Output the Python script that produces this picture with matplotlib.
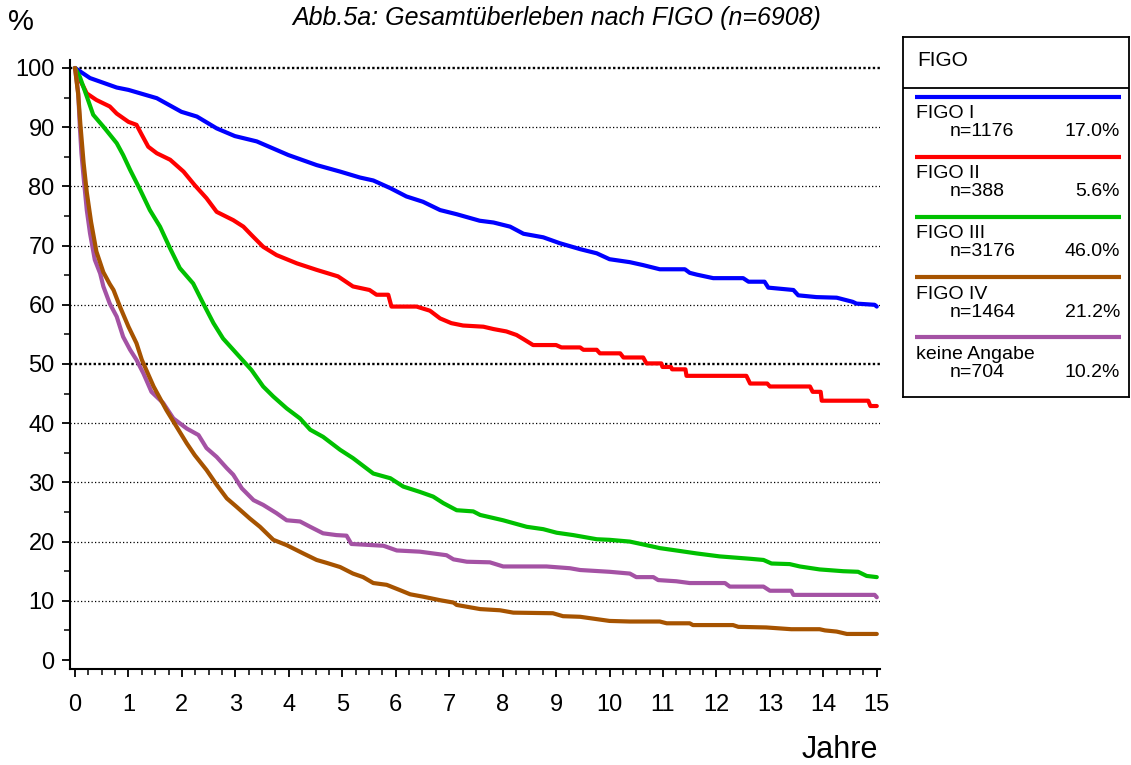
import matplotlib
matplotlib.use("Agg")
import matplotlib.pyplot as plt
from matplotlib.ticker import MultipleLocator

plt.rcParams['font.family'] = ['Liberation Sans', 'DejaVu Sans']

# Kaplan-Meier estimates (years, % surviving)
figo1_t = [0, 0.28, 0.78, 1.0, 1.53, 1.99, 2.28, 2.65, 2.99, 3.4, 3.99, 4.52, 4.96, 5.33,
           5.58, 5.9, 6.2, 6.51, 6.83, 7.14, 7.57, 7.83, 8.14, 8.39, 8.76, 9.07, 9.45, 9.76,
           10.0, 10.38, 10.63, 10.94, 11.41, 11.5, 11.63, 11.94, 12.5, 12.6, 12.9, 12.97,
           13.44, 13.53, 13.87, 14.25, 14.55, 14.62, 14.96, 15.0]
figo1_v = [100, 98.3, 96.7, 96.3, 94.9, 92.6, 91.8, 89.8, 88.5, 87.6, 85.3, 83.6, 82.5, 81.5,
           81.0, 79.7, 78.3, 77.4, 76.0, 75.3, 74.2, 73.9, 73.2, 72.0, 71.4, 70.4, 69.4, 68.7,
           67.7, 67.2, 66.7, 66.0, 66.0, 65.4, 65.1, 64.5, 64.5, 63.9, 63.9, 62.9,
           62.5, 61.6, 61.3, 61.2, 60.5, 60.2, 60.0, 59.7]

figo2_t = [0, 0.06, 0.16, 0.22, 0.4, 0.65, 0.78, 1.0, 1.15, 1.25, 1.37, 1.53, 1.78, 2.03,
           2.24, 2.46, 2.65, 2.96, 3.15, 3.3, 3.52, 3.77, 4.15, 4.52, 4.92, 5.2, 5.51, 5.64,
           5.86, 5.92, 6.39, 6.64, 6.83, 7.04, 7.26, 7.64, 7.83, 8.07, 8.26, 8.39, 8.57, 9.0,
           9.1, 9.45, 9.51, 9.76, 9.82, 10.2, 10.26, 10.63, 10.69, 10.97, 10.99, 11.15, 11.17,
           11.42, 11.44, 12.56, 12.63, 12.95, 13.0, 13.75, 13.8, 13.95, 13.97, 14.84, 14.88, 15.0]
figo2_v = [100, 98.5, 96.8, 95.7, 94.6, 93.5, 92.3, 90.9, 90.4, 88.7, 86.7, 85.6, 84.5, 82.5,
           80.2, 78.0, 75.7, 74.3, 73.2, 71.8, 69.8, 68.4, 67.0, 65.9, 64.8, 63.1, 62.5, 61.7,
           61.7, 59.7, 59.7, 59.0, 57.7, 56.9, 56.5, 56.3, 55.9, 55.5, 54.9, 54.2, 53.2, 53.2,
           52.8, 52.8, 52.4, 52.4, 51.8, 51.8, 51.1, 51.1, 50.1, 50.1, 49.5, 49.5, 49.1,
           49.1, 48.0, 48.0, 46.7, 46.7, 46.2, 46.2, 45.3, 45.3, 43.8, 43.8, 42.9, 42.9]

figo3_t = [0, 0.09, 0.22, 0.34, 0.53, 0.78, 0.9, 1.03, 1.22, 1.4, 1.59, 1.78, 1.96, 2.21,
           2.4, 2.59, 2.77, 3.02, 3.3, 3.52, 3.71, 3.96, 4.21, 4.4, 4.64, 4.96, 5.2, 5.58,
           5.9, 6.14, 6.45, 6.7, 6.89, 7.14, 7.45, 7.58, 8.01, 8.45, 8.76, 9.01, 9.32, 9.76,
           10.0, 10.38, 10.69, 10.94, 11.25, 11.63, 12.06, 12.63, 12.88, 13.03, 13.37, 13.56,
           13.93, 14.37, 14.65, 14.81, 15.0]
figo3_v = [100, 98.5, 95.2, 92.1, 90.1, 87.3, 85.3, 82.8, 79.4, 76.0, 73.2, 69.5, 66.2, 63.6,
           60.2, 56.9, 54.3, 51.8, 49.0, 46.2, 44.5, 42.5, 40.8, 38.9, 37.7, 35.5, 34.1, 31.5,
           30.7, 29.3, 28.4, 27.6, 26.5, 25.3, 25.1, 24.5, 23.6, 22.5, 22.1, 21.5, 21.1, 20.4,
           20.3, 20.0, 19.4, 18.9, 18.5, 18.0, 17.5, 17.1, 16.9, 16.3, 16.2, 15.8,
           15.3, 15.0, 14.9, 14.2, 14.0]

figo4_t = [0, 0.06, 0.1, 0.16, 0.22, 0.3, 0.4, 0.53, 0.65, 0.72, 0.84, 1.0, 1.15, 1.25,
           1.47, 1.71, 1.9, 2.09, 2.24, 2.46, 2.65, 2.84, 3.02, 3.27, 3.46, 3.71, 3.96, 4.27,
           4.52, 4.71, 4.96, 5.2, 5.39, 5.58, 5.83, 6.08, 6.27, 6.51, 6.83, 7.08, 7.14, 7.58,
           7.95, 8.2, 8.94, 9.13, 9.45, 10.0, 10.38, 10.94, 11.07, 11.5, 11.56, 12.31, 12.41,
           12.93, 13.4, 13.93, 14.03, 14.25, 14.44, 15.0]
figo4_v = [100, 95.5, 90.5, 84.0, 79.0, 74.0, 69.0, 65.5, 63.5, 62.5, 59.7, 56.3, 53.5, 50.7,
           46.2, 42.2, 39.4, 36.6, 34.6, 32.1, 29.6, 27.3, 25.9, 23.9, 22.5, 20.3, 19.4, 18.0,
           16.9, 16.4, 15.7, 14.6, 14.0, 13.0, 12.7, 11.8, 11.1, 10.7, 10.1, 9.7, 9.3, 8.6,
           8.4, 8.0, 7.9, 7.4, 7.3, 6.6, 6.5, 6.5, 6.2, 6.2, 5.9, 5.9, 5.6,
           5.5, 5.2, 5.2, 5.0, 4.8, 4.4, 4.4]

na_t = [0, 0.06, 0.09, 0.12, 0.16, 0.22, 0.28, 0.37, 0.47, 0.53, 0.65, 0.78, 0.9, 1.03,
        1.15, 1.28, 1.43, 1.65, 1.84, 2.09, 2.31, 2.46, 2.65, 2.84, 2.96, 3.12, 3.34, 3.52,
        3.77, 3.96, 4.21, 4.4, 4.64, 4.89, 5.08, 5.17, 5.77, 6.02, 6.45, 6.95, 7.08, 7.33,
        7.76, 8.01, 8.82, 9.26, 9.45, 10.0, 10.38, 10.5, 10.82, 10.91, 11.25, 11.5, 12.16,
        12.25, 12.88, 13.0, 13.4, 13.44, 14.96, 15.0]
na_v = [100, 95.7, 90.1, 85.6, 81.6, 76.0, 72.1, 67.6, 65.3, 63.1, 60.2, 58.0, 54.6, 52.4,
        50.7, 48.4, 45.3, 43.4, 40.8, 39.1, 38.0, 35.8, 34.3, 32.4, 31.3, 29.0, 27.0, 26.2,
        24.8, 23.6, 23.4, 22.5, 21.4, 21.1, 21.0, 19.6, 19.3, 18.5, 18.3, 17.7, 17.0, 16.6,
        16.5, 15.8, 15.8, 15.5, 15.2, 14.9, 14.6, 14.0, 14.0, 13.5, 13.3, 13.0, 13.0,
        12.4, 12.4, 11.7, 11.7, 11.0, 11.0, 10.6]

groups = ["FIGO I", "FIGO II", "FIGO III", "FIGO IV", "keine Angabe"]
counts = [1176, 388, 3176, 1464, 704]
shares = [17.0, 5.6, 46.0, 21.2, 10.2]
colors = ["#0000ff", "#ff0000", "#00c000", "#a65300", "#a452a4"]
curves = [(figo1_t, figo1_v), (figo2_t, figo2_v), (figo3_t, figo3_v),
          (figo4_t, figo4_v), (na_t, na_v)]

W, H = 1131, 765
fig = plt.figure(figsize=(W / 100, H / 100), dpi=100)
ax = fig.add_axes([70 / W, 1 - 669 / H, 810 / W, 609 / H])

ax.set_xlim(-0.094, 15.06)
ax.set_ylim(-1.52, 101.35)

# dotted reference lines, heavier at 50 and 100
for y in range(10, 101, 10):
    if y in (50, 100):
        ax.axhline(y, color="black", lw=1.7, ls=(0, (1, 1)), zorder=1)
    else:
        ax.axhline(y, color="black", lw=0.9, ls=(0, (1, 1.8)), zorder=1)

# draw the "keine Angabe" curve first so FIGO IV sits on top in the early part
order = [0, 1, 2, 4, 3]
for i in order:
    t, v = curves[i]
    ax.plot(t, v, color=colors[i], lw=3, solid_joinstyle="round",
            solid_capstyle="round", zorder=3)

for side in ("top", "right"):
    ax.spines[side].set_visible(False)
for side in ("left", "bottom"):
    ax.spines[side].set_linewidth(1.5)

ax.xaxis.set_major_locator(MultipleLocator(1))
ax.xaxis.set_minor_locator(MultipleLocator(0.25))
ax.yaxis.set_major_locator(MultipleLocator(10))
ax.yaxis.set_minor_locator(MultipleLocator(5))
ax.tick_params(axis="x", which="major", length=6, width=1.3, pad=12, labelsize=17)
ax.tick_params(axis="x", which="minor", length=4, width=1.1)
ax.tick_params(axis="y", which="major", length=6, width=1.3, pad=5, labelsize=17)
ax.tick_params(axis="y", which="minor", length=4, width=1.1)

fig.text(21 / W, 1 - 22 / H, "%", fontsize=21, ha="center", va="center")
fig.text(878 / W, 1 - 750 / H, "Jahre", fontsize=22, ha="right", va="center")
fig.text(557 / W, 1 - 18 / H, "Abb.5a: Gesamtüberleben nach FIGO (n=6908)",
         fontsize=18, style="italic", ha="center", va="center")

# legend box
lax = fig.add_axes([903 / W, 1 - 397 / H, 226 / W, 360 / H])
lax.set_xlim(0, 226)
lax.set_ylim(360, 0)
lax.set_xticks([])
lax.set_yticks([])
for s in lax.spines.values():
    s.set_linewidth(1.3)
lax.axhline(51, color="black", lw=1.3)
lax.text(14, 23, "FIGO", fontsize=15, va="center", ha="left")
for k, (name, n, pct, c) in enumerate(zip(groups, counts, shares, colors)):
    y0 = 60 + 60 * k
    lax.plot([12, 218], [y0, y0], color=c, lw=3, solid_capstyle="butt")
    lax.text(13, y0 + 17, name, fontsize=14, va="center", ha="left")
    lax.text(47, y0 + 35, f"n={n}", fontsize=14, va="center", ha="left")
    lax.text(217, y0 + 35, f"{pct:.1f}%", fontsize=14, va="center", ha="right")

fig.savefig("out.png", dpi=100)
